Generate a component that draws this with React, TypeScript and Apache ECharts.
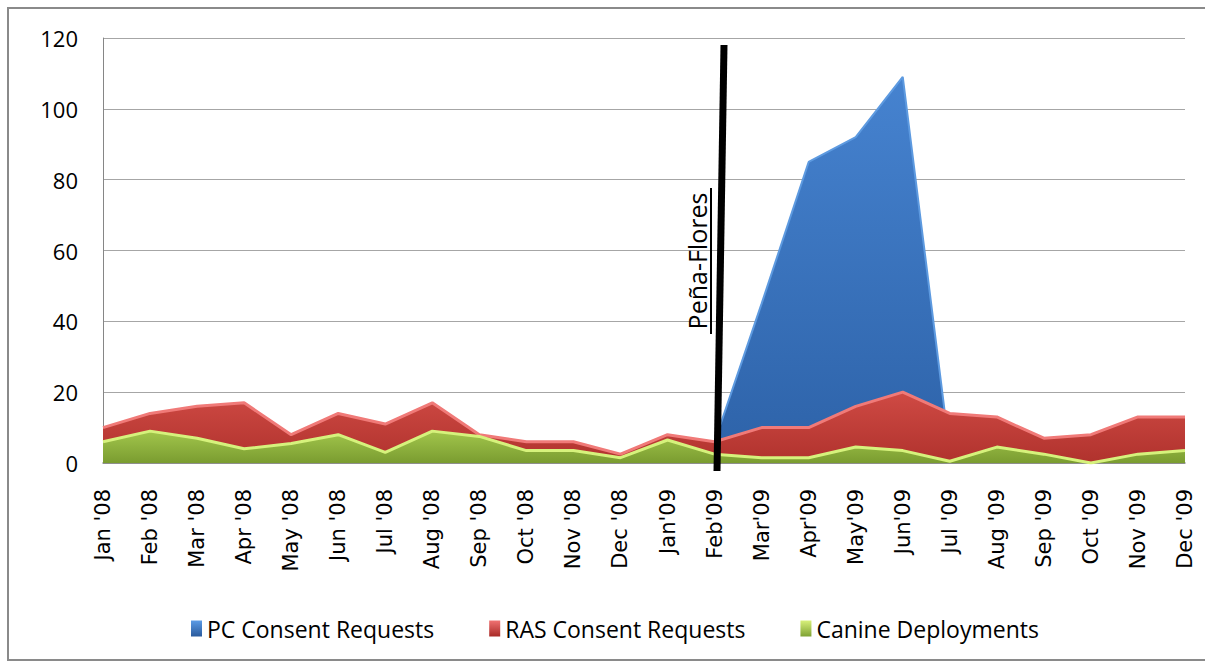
import React, { useEffect, useRef } from "react";
import * as echarts from "echarts";

const months = [
  "Jan '08", "Feb '08", "Mar '08", "Apr '08", "May '08", "Jun '08", "Jul '08", "Aug '08",
  "Sep '08", "Oct '08", "Nov '08", "Dec '08", "Jan'09", "Feb'09", "Mar'09", "Apr'09",
  "May'09", "Jun'09", "Jul '09", "Aug '09", "Sep '09", "Oct '09", "Nov '09", "Dec '09",
];
const pcConsent = [
  null, null, null, null, null, null, null, null, null, null, null, null,
  null, 6, 45, 85, 92, 109, 3, null, null, null, null, null,
];
const rasConsent = [10, 14, 16, 17, 8, 14, 11, 17, 8, 6, 6, 2.5, 8, 6, 10, 10, 16, 20, 14, 13, 7, 8, 13, 13];
const canine = [6, 9, 7, 4, 5.5, 8, 3, 9, 7.5, 3.5, 3.5, 1.5, 6.5, 2.5, 1.5, 1.5, 4.5, 3.5, 0.5, 4.5, 2.5, 0, 2.5, 3.5];
const yTicks = { min: 0, max: 120, interval: 20 };
const seriesNames = ["PC Consent Requests", "RAS Consent Requests", "Canine Deployments"];
const annotation = "Peña-Flores";

export default function App() {
  const ref = useRef<HTMLDivElement>(null);
  useEffect(() => {
    document.body.style.margin = "0";
    const chart = echarts.init(ref.current!, null, { renderer: "svg" });
    const grad = (a: string, b: string) =>
      new echarts.graphic.LinearGradient(0, 0, 0, 1, [
        { offset: 0, color: a },
        { offset: 1, color: b },
      ]);
    chart.setOption({
      animation: false,
      backgroundColor: "#ffffff",
      grid: { left: 103, right: 20, top: 38, bottom: 204 },
      legend: {
        left: 186,
        top: 612,
        itemGap: 55,
        itemWidth: 11,
        itemHeight: 16,
        icon: "rect",
        textStyle: { fontFamily: "Open Sans", fontSize: 23, color: "#000" },
        data: [
          { name: seriesNames[0], itemStyle: { color: grad("#5b9be6", "#2a5a9c") } },
          { name: seriesNames[1], itemStyle: { color: grad("#f07272", "#a82a26") } },
          { name: seriesNames[2], itemStyle: { color: grad("#d8f07a", "#7ea233") } },
        ],
      },
      xAxis: {
        type: "category",
        data: months,
        boundaryGap: false,
        axisLine: { lineStyle: { color: "#868686", width: 1.5 } },
        axisTick: { show: false },
        axisLabel: {
          rotate: 90,
          interval: 0,
          margin: 26,
          fontFamily: "DejaVu Sans",
          fontSize: 21,
          color: "#000",
        },
      },
      yAxis: {
        type: "value",
        min: yTicks.min,
        max: yTicks.max,
        interval: yTicks.interval,
        axisLine: { show: true, lineStyle: { color: "#868686", width: 1 } },
        axisTick: { show: false },
        splitLine: { lineStyle: { color: "#a6a6a6", width: 1 } },
        axisLabel: {
          margin: 25,
          fontFamily: "Open Sans",
          fontSize: 22,
          color: "#000",
        },
      },
      series: [
        {
          name: seriesNames[0],
          type: "line",
          z: 1,
          data: pcConsent,
          showSymbol: false,
          connectNulls: false,
          lineStyle: { color: "#5d9ae0", width: 2 },
          itemStyle: { color: "#3a6fb5" },
          areaStyle: { color: grad("#4683d0", "#2d62a8"), opacity: 1 },
        },
        {
          name: seriesNames[1],
          type: "line",
          z: 2,
          data: rasConsent,
          showSymbol: false,
          lineStyle: { color: "#f07a78", width: 3 },
          itemStyle: { color: "#c0403a" },
          areaStyle: { color: grad("#cf4a44", "#b0322d"), opacity: 1 },
        },
        {
          name: seriesNames[2],
          type: "line",
          z: 3,
          data: canine,
          showSymbol: false,
          lineStyle: { color: "#d6f27c", width: 3 },
          itemStyle: { color: "#8fb43a" },
          areaStyle: { color: grad("#a2c64c", "#7a9c30"), opacity: 1 },
        },
      ],
      graphic: [
        {
          type: "rect",
          shape: { x: 8, y: 8, width: 1210, height: 652 },
          style: { fill: "none", stroke: "#8a8a8a", lineWidth: 2 },
          silent: true,
        },
        {
          type: "line",
          shape: { x1: 724, y1: 45, x2: 717, y2: 471 },
          style: { stroke: "#000", lineWidth: 7 },
          z: 100,
        },
        {
          type: "text",
          x: 697,
          y: 261,
          rotation: Math.PI / 2,
          style: {
            text: annotation,
            fontFamily: "Open Sans",
            fontSize: 25,
            fill: "#000",
            align: "center",
            verticalAlign: "middle",
          },
          z: 100,
        },
        {
          type: "line",
          shape: { x1: 711, y1: 188, x2: 711, y2: 334 },
          style: { stroke: "#000", lineWidth: 2 },
          z: 100,
        },
      ],
    });
    return () => chart.dispose();
  }, []);
  return <div ref={ref} style={{ width: 1205, height: 667 }} />;
}
